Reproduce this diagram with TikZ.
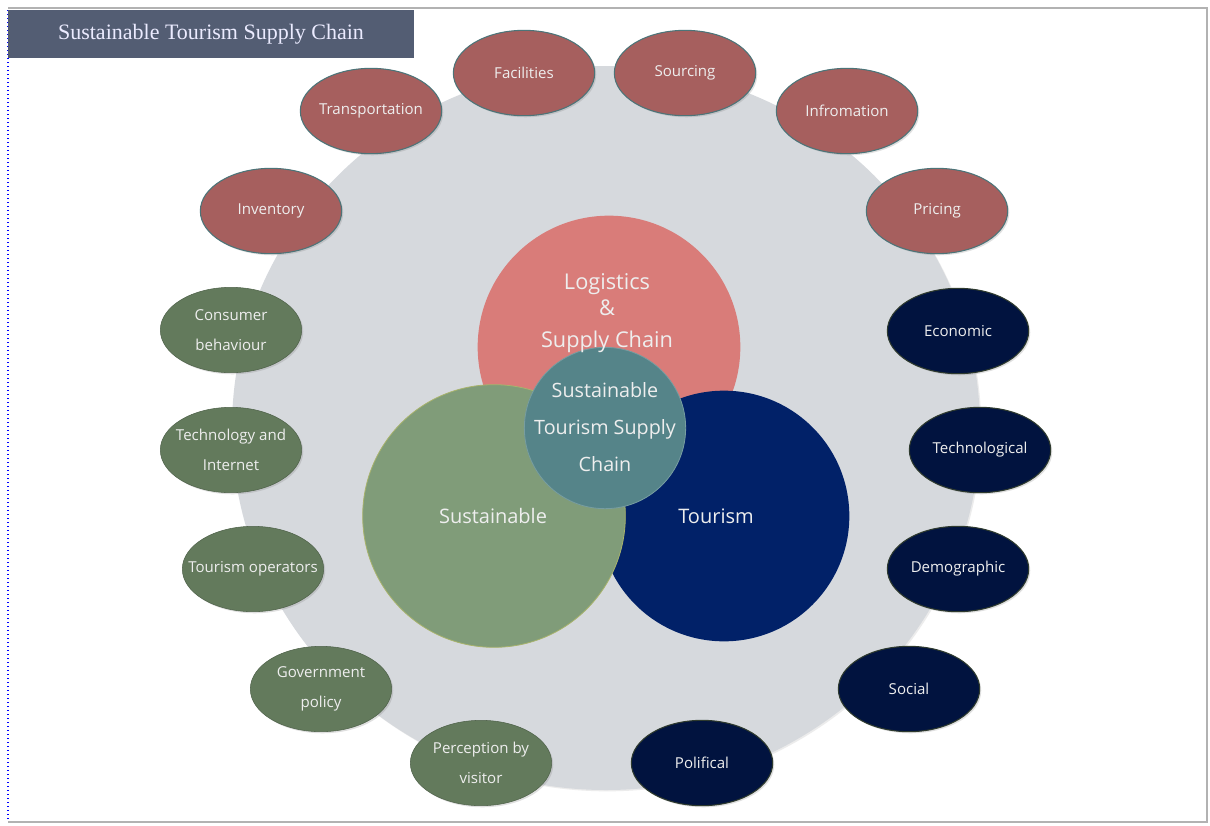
\documentclass[tikz,border=0pt]{standalone}
\usepackage{fontspec}
\setmainfont{Liberation Serif}
\newfontfamily\diagfont{Open Sans}
\usetikzlibrary{shapes.geometric,shadows}
\definecolor{bannerc}{HTML}{535D73}
\definecolor{bgell}{HTML}{D6D9DD}
\definecolor{pinkc}{HTML}{D97C79}
\definecolor{greenc}{HTML}{809C79}
\definecolor{greenedge}{HTML}{A8B36C}
\definecolor{navyc}{HTML}{012168}
\definecolor{tealc}{HTML}{558489}
\definecolor{redc}{HTML}{A65F5E}
\definecolor{rededge}{HTML}{4C7478}
\definecolor{sgreen}{HTML}{637A5C}
\definecolor{snavy}{HTML}{01133F}
\definecolor{snavyedge}{HTML}{2E3A2E}
\definecolor{txtc}{HTML}{EEEEEE}
\begin{document}
\begin{tikzpicture}[x=0.75pt,y=-0.75pt,
  small/.style={ellipse,minimum width=106pt,minimum height=64pt,inner xsep=-16pt,inner ysep=0pt,
    align=center,font=\diagfont\fontsize{11.3}{22}\selectfont,text=txtc,
    drop shadow={opacity=0.25,shadow xshift=1.2pt,shadow yshift=-1.2pt}},
  redell/.style={small,fill=redc,draw=rededge,line width=0.8pt},
  greenell/.style={small,fill=sgreen,draw=sgreen!80!black,line width=0.4pt},
  navyell/.style={small,fill=snavy,draw=snavyedge,line width=0.8pt},
  big/.style={circle,inner sep=0pt,align=center,text=txtc,
    font=\diagfont\fontsize{15}{21}\selectfont}]
\useasboundingbox (0,0) rectangle (1210,825);
% frame
\fill[white] (0,0) rectangle (1210,825);
\draw[gray!60,line width=1.2pt] (8,8) -- (1207,8) -- (1207,822) -- (8,822);
\draw[blue,dotted,line width=1pt] (8,10) -- (8,820);
% banner
\node[fill=bannerc,minimum width=304pt,minimum height=36pt,inner sep=0pt,
  text=white!92!blue,font=\fontsize{16.5}{18}\selectfont] (title) at (211,34) {Sustainable Tourism Supply Chain};
% background ellipse
\node[ellipse,fill=bgell,minimum width=561pt,minimum height=543pt,inner sep=0pt,
  drop shadow={opacity=0.15,shadow xshift=1pt,shadow yshift=-1pt}] (bg) at (606,428) {};
% central circles
\node[big,fill=pinkc,minimum size=197pt] (logi) at (609,347) {};
\node[big,fill=navyc,minimum size=188pt] (tour) at (724,516) {};
\node[big,fill=greenc,draw=greenedge,line width=0.6pt,minimum size=197pt] (sust) at (494,516) {};
\node[big,fill=tealc,draw=tealc!80!white,line width=0.6pt,minimum size=121pt] (stsc) at (605,428) {};
\node[big,font=\diagfont\fontsize{16.3}{21}\selectfont] at (607,313) {Logistics\\[-2pt]\&\\[3pt]Supply Chain};
\node[big,font=\diagfont\fontsize{14.8}{28}\selectfont] at (605,427) {Sustainable\\Tourism Supply\\Chain};
\node[big] at (493,516) {Sustainable};
\node[big] at (716,516) {Tourism};
% red ellipses
\node[redell] (fac) at (524,73) {Facilities};
\node[redell] (sou) at (685,73) {Sourcing};
\node[redell] (tra) at (371,111) {Transportation};
\node[redell] (inf) at (847,111) {Infromation};
\node[redell] (inv) at (271,211) {Inventory};
\node[redell] (pri) at (937,211) {Pricing};
% green ellipses
\node[greenell] (con) at (231,330) {Consumer\\behaviour};
\node[greenell] (tec) at (231,450) {Technology and\\Internet};
\node[greenell] (tou) at (253,569) {Tourism operators};
\node[greenell] (gov) at (321,689) {Government\\policy};
\node[greenell] (per) at (481,763) {Perception by\\visitor};
% navy ellipses
\node[navyell] (eco) at (958,331) {Economic};
\node[navyell] (tech) at (980,450) {Technological};
\node[navyell] (dem) at (958,569) {Demographic};
\node[navyell] (soc) at (909,689) {Social};
\node[navyell] (pol) at (702,763) {Polifical};
\end{tikzpicture}
\end{document}
